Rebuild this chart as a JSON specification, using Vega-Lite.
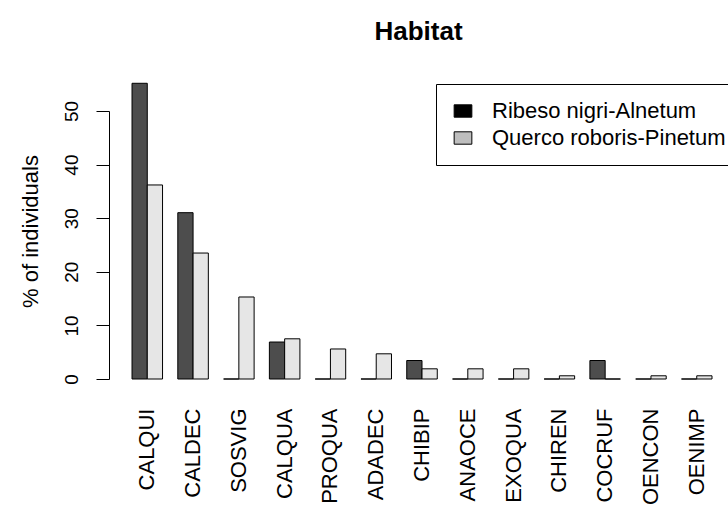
{
  "$schema": "https://vega.github.io/schema/vega-lite/v6.json",
  "width": 619,
  "height": 268,
  "autosize": "none",
  "padding": {"left": 109, "top": 111, "right": 0, "bottom": 126},
  "background": "white",
  "title": {
    "text": "Habitat",
    "font": "Liberation Sans",
    "fontSize": 26,
    "fontWeight": "bold",
    "color": "black",
    "anchor": "middle",
    "frame": "group",
    "baseline": "alphabetic",
    "offset": 17
  },
  "data": {
    "values": [
      {"species": "CALQUI", "habitat": "Ribeso nigri-Alnetum", "pct": 55.17},
      {"species": "CALQUI", "habitat": "Querco roboris-Pinetum", "pct": 36.2},
      {"species": "CALDEC", "habitat": "Ribeso nigri-Alnetum", "pct": 31.03},
      {"species": "CALDEC", "habitat": "Querco roboris-Pinetum", "pct": 23.5},
      {"species": "SOSVIG", "habitat": "Ribeso nigri-Alnetum", "pct": 0},
      {"species": "SOSVIG", "habitat": "Querco roboris-Pinetum", "pct": 15.3},
      {"species": "CALQUA", "habitat": "Ribeso nigri-Alnetum", "pct": 6.9},
      {"species": "CALQUA", "habitat": "Querco roboris-Pinetum", "pct": 7.5},
      {"species": "PROQUA", "habitat": "Ribeso nigri-Alnetum", "pct": 0},
      {"species": "PROQUA", "habitat": "Querco roboris-Pinetum", "pct": 5.6},
      {"species": "ADADEC", "habitat": "Ribeso nigri-Alnetum", "pct": 0},
      {"species": "ADADEC", "habitat": "Querco roboris-Pinetum", "pct": 4.7},
      {"species": "CHIBIP", "habitat": "Ribeso nigri-Alnetum", "pct": 3.45},
      {"species": "CHIBIP", "habitat": "Querco roboris-Pinetum", "pct": 1.9},
      {"species": "ANAOCE", "habitat": "Ribeso nigri-Alnetum", "pct": 0},
      {"species": "ANAOCE", "habitat": "Querco roboris-Pinetum", "pct": 1.9},
      {"species": "EXOQUA", "habitat": "Ribeso nigri-Alnetum", "pct": 0},
      {"species": "EXOQUA", "habitat": "Querco roboris-Pinetum", "pct": 1.9},
      {"species": "CHIREN", "habitat": "Ribeso nigri-Alnetum", "pct": 0},
      {"species": "CHIREN", "habitat": "Querco roboris-Pinetum", "pct": 0.6},
      {"species": "COCRUF", "habitat": "Ribeso nigri-Alnetum", "pct": 3.45},
      {"species": "COCRUF", "habitat": "Querco roboris-Pinetum", "pct": 0},
      {"species": "OENCON", "habitat": "Ribeso nigri-Alnetum", "pct": 0},
      {"species": "OENCON", "habitat": "Querco roboris-Pinetum", "pct": 0.6},
      {"species": "OENIMP", "habitat": "Ribeso nigri-Alnetum", "pct": 0},
      {"species": "OENIMP", "habitat": "Querco roboris-Pinetum", "pct": 0.6}
    ]
  },
  "encoding": {
    "x": {
      "field": "species",
      "type": "nominal",
      "sort": null,
      "scale": {"paddingInner": 0.3333, "paddingOuter": 0.426, "align": 0.59},
      "axis": {
        "title": null,
        "domain": false,
        "ticks": false,
        "tickSize": 0,
        "labelAngle": -90,
        "labelAlign": "right",
        "labelBaseline": "middle",
        "labelPadding": 29,
        "labelFont": "Liberation Sans",
        "labelFontSize": 22,
        "labelColor": "black",
        "labelOverlap": false
      }
    },
    "xOffset": {
      "field": "habitat",
      "type": "nominal",
      "scale": {
        "domain": ["Ribeso nigri-Alnetum", "Querco roboris-Pinetum"],
        "paddingInner": 0,
        "paddingOuter": 0
      }
    }
  },
  "layer": [
    {
      "mark": {"type": "bar", "stroke": "black", "strokeWidth": 1, "clip": false},
      "encoding": {
        "y": {
          "field": "pct",
          "type": "quantitative",
          "scale": {"domain": [0, 50], "nice": false, "zero": false},
          "axis": {
            "values": [0, 10, 20, 30, 40, 50],
            "grid": false,
            "domainColor": "black",
            "domainWidth": 1,
            "tickColor": "black",
            "tickWidth": 1,
            "tickSize": 13,
            "labelAngle": -90,
            "labelAlign": "center",
            "labelBaseline": "alphabetic",
            "labelPadding": 19,
            "labelFont": "Liberation Sans",
            "labelFontSize": 19,
            "labelColor": "black",
            "labelFlush": false,
            "labelOverlap": false,
            "title": "% of individuals",
            "titleFont": "Liberation Sans",
            "titleFontSize": 22,
            "titleFontWeight": "normal",
            "titleColor": "black",
            "titlePadding": 20,
            "titleY": 120
          }
        },
        "y2": {"datum": 0},
        "fill": {
          "field": "habitat",
          "type": "nominal",
          "scale": {
            "domain": ["Ribeso nigri-Alnetum", "Querco roboris-Pinetum"],
            "range": ["#4d4d4d", "#e6e6e6"]
          },
          "legend": null
        }
      }
    },
    {
      "mark": {"type": "bar", "strokeWidth": 0, "clip": false},
      "encoding": {
        "y": {"datum": 0, "type": "quantitative"},
        "y2": {"datum": 0},
        "fill": {
          "field": "habitat",
          "type": "nominal",
          "scale": {
            "domain": ["Ribeso nigri-Alnetum", "Querco roboris-Pinetum"],
            "range": ["#000000", "#bebebe"]
          },
          "legend": {
            "title": null,
            "orient": "none",
            "legendX": 327,
            "legendY": -27,
            "direction": "vertical",
            "strokeColor": "black",
            "fillColor": "white",
            "padding": 16,
            "symbolType": "M-1,-0.7H1V0.7H-1Z",
            "symbolSize": 313,
            "symbolStrokeColor": "black",
            "symbolStrokeWidth": 1,
            "symbolOpacity": 1,
            "labelFont": "Liberation Sans",
            "labelFontSize": 22,
            "labelColor": "black",
            "labelOffset": 18,
            "labelLimit": 0,
            "rowPadding": 5
          }
        }
      }
    }
  ],
  "resolve": {"scale": {"fill": "independent"}, "legend": {"fill": "independent"}},
  "config": {
    "view": {"stroke": null},
    "font": "Liberation Sans"
  }
}
